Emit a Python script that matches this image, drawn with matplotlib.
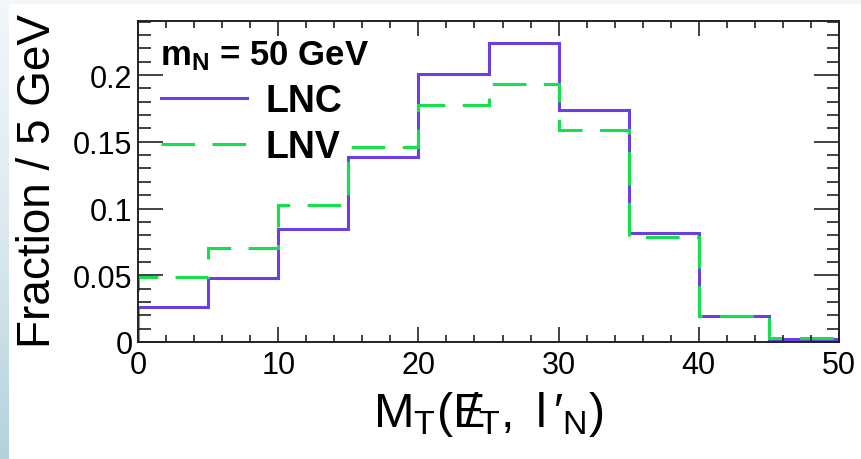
import numpy as np
import matplotlib
matplotlib.use('Agg')
import matplotlib.pyplot as plt
from matplotlib.lines import Line2D
from matplotlib.ticker import MultipleLocator, FuncFormatter
from matplotlib.colors import LinearSegmentedColormap

plt.rcParams['font.family'] = ['Liberation Sans', 'DejaVu Sans']
plt.rcParams['mathtext.fontset'] = 'custom'
plt.rcParams['mathtext.rm'] = 'Liberation Sans'
plt.rcParams['mathtext.it'] = 'Liberation Sans:italic'
plt.rcParams['mathtext.bf'] = 'Liberation Sans:bold'

# bin edges in GeV, 5 GeV bins
edges = np.arange(0, 55, 5)
lnc = [0.0265, 0.0478, 0.0846, 0.1384, 0.2007, 0.2240, 0.1740, 0.0814, 0.0197, 0.0022]
lnv = [0.0485, 0.0702, 0.1029, 0.1460, 0.1775, 0.1933, 0.1590, 0.0786, 0.0197, 0.0032]
yticks = [0, 0.05, 0.1, 0.15, 0.2]

c_lnc = '#6b3fe0'
c_lnv = '#14e04c'

fig = plt.figure(figsize=(8.61, 4.60), dpi=100)

# slide background strip on the left/top
bg = fig.add_axes([0, 0, 9/861, 1])
cmap = LinearSegmentedColormap.from_list('bg', ['#f2f7f9', '#dceaef', '#b4d2dc'])
bg.imshow(np.linspace(0, 1, 100).reshape(-1, 1), aspect='auto', cmap=cmap, extent=[0, 1, 0, 1], origin='upper')
bg.axis('off')
fig.patches.append(plt.Rectangle((0, 1 - 4/460), 1, 4/460, transform=fig.transFigure,
                                 color='#f3f7f9', zorder=0))

ax = fig.add_axes([138/861, 1 - 343/460, (839 - 138)/861, (343 - 22)/460])

ax.stairs(lnc, edges, baseline=0, color=c_lnc, lw=2.2)
ax.stairs(lnv, edges, baseline=0, color=c_lnv, lw=2.2, linestyle=(0, (11, 5.7)))

ax.set_xlim(0, 50)
ax.set_ylim(0, 0.2405)

ax.xaxis.set_major_locator(MultipleLocator(10))
ax.xaxis.set_minor_locator(MultipleLocator(2))
ax.set_yticks(yticks)
ax.yaxis.set_minor_locator(MultipleLocator(0.01))
ax.yaxis.set_major_formatter(FuncFormatter(lambda v, p: '0' if v == 0 else '%g' % v))

ax.tick_params(axis='both', which='both', direction='in', top=True, right=True,
               width=1.2, color='#222222', labelsize=22)
ax.tick_params(axis='x', which='major', length=11, pad=6)
ax.tick_params(axis='x', which='minor', length=5)
ax.tick_params(axis='y', which='major', length=18, pad=4)
ax.tick_params(axis='y', which='minor', length=9)
for s in ax.spines.values():
    s.set_linewidth(1.4)
    s.set_color('#222222')

ax.set_ylabel('Fraction / 5 GeV', fontsize=33)
ax.yaxis.set_label_coords(-0.111, 0.505)
ax.set_xlabel('$\\mathregular{M_T(E\\!\\!\\!/_T,\\ l\\,\u2032_N)}$', fontsize=35)
ax.xaxis.set_label_coords(0.5, -0.145)

handles = [Line2D([], [], color=c_lnc, lw=2.2),
           Line2D([], [], color=c_lnv, lw=2.2, linestyle=(0, (11, 5.7)))]
leg = ax.legend(handles, ['LNC', 'LNV'], title=r'$\mathbf{m_N}$ = 50 GeV',
                loc='upper left', bbox_to_anchor=(0.0, 1.015), frameon=False,
                prop={'weight': 'bold', 'size': 27}, handlelength=2.3,
                handletextpad=0.5, labelspacing=0.28, alignment='left',
                borderaxespad=0.2,
                title_fontproperties={'weight': 'bold', 'size': 25})

fig.savefig('out.png', dpi=100)
